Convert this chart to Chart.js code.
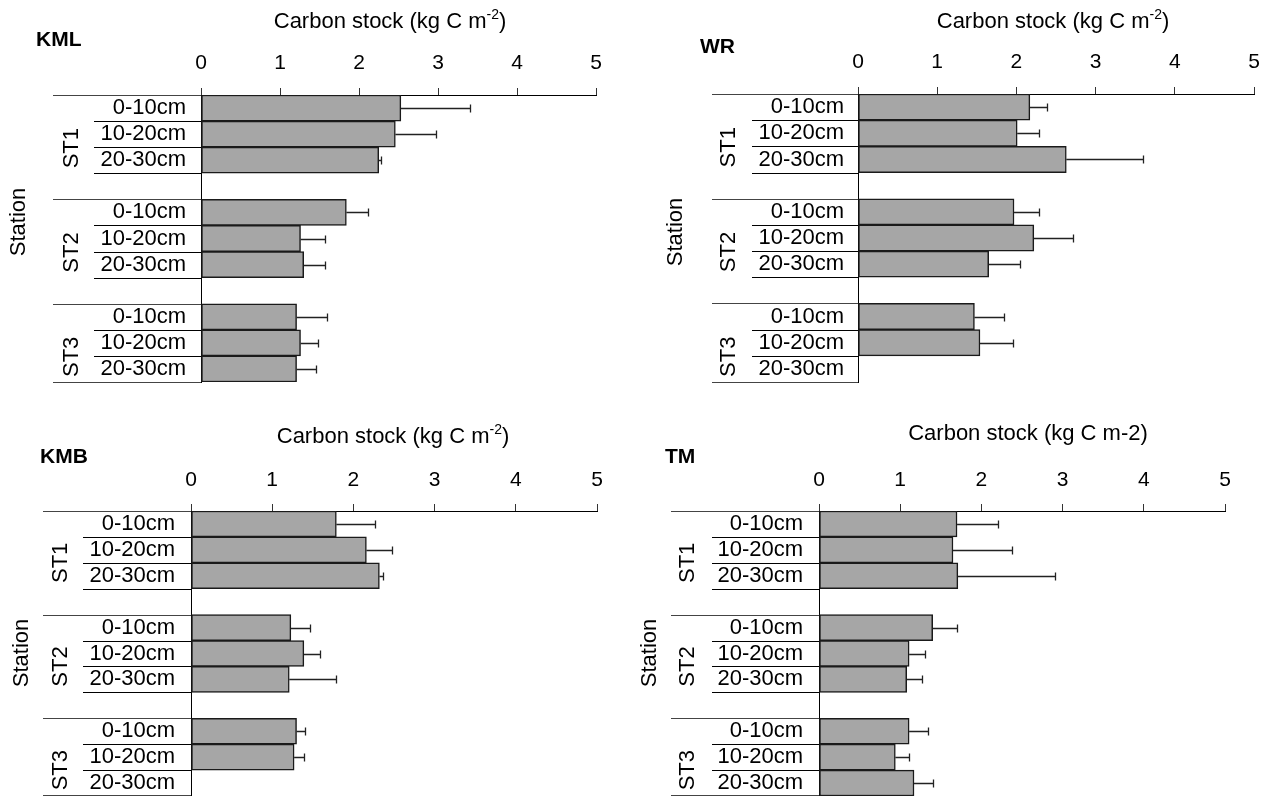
<!DOCTYPE html>
<html><head><meta charset="utf-8">
<script src="https://cdn.jsdelivr.net/npm/chart.js@4.4.1/dist/chart.umd.min.js"></script>
<style>
html,body{margin:0;padding:0;background:#fff;}
body{width:1274px;height:796px;position:relative;overflow:hidden;}
canvas{position:absolute;}
</style></head><body>
<canvas id="kml"></canvas>
<canvas id="wr"></canvas>
<canvas id="kmb"></canvas>
<canvas id="tm"></canvas>
<script>
// ---- data ----
const depthLabels = ['0-10cm','10-20cm','20-30cm','','0-10cm','10-20cm','20-30cm','','0-10cm','10-20cm','20-30cm'];
const stationLabels = ['ST1','ST2','ST3'];
const xTickValues = [0,1,2,3,4,5];
const axisTitle = 'Carbon stock (kg C m';
const axisTitleSup = '-2';
const axisTitlePlain = 'Carbon stock (kg C m-2)';
const stationTitle = 'Station';

const kmlValues = [2.53, 2.46, 2.25, null, 1.84, 1.26, 1.30, null, 1.21, 1.26, 1.21];
const kmlErrors = [0.88, 0.51, 0.03, null, 0.27, 0.31, 0.27, null, 0.39, 0.22, 0.24];
const wrValues  = [2.17, 2.01, 2.63, null, 1.97, 2.22, 1.65, null, 1.47, 1.54, null];
const wrErrors  = [0.22, 0.27, 0.97, null, 0.32, 0.49, 0.39, null, 0.37, 0.42, null];
const kmbValues = [1.79, 2.16, 2.32, null, 1.23, 1.39, 1.21, null, 1.30, 1.27, null];
const kmbErrors = [0.47, 0.32, 0.05, null, 0.24, 0.20, 0.58, null, 0.10, 0.12, null];
const tmValues  = [1.70, 1.65, 1.71, null, 1.40, 1.11, 1.08, null, 1.11, 0.94, 1.17];
const tmErrors  = [0.51, 0.73, 1.20, null, 0.30, 0.19, 0.19, null, 0.23, 0.17, 0.23];

const FONT = '"Liberation Sans", Arial, sans-serif';

function decor(cfg, errors){
  return {
    id: 'decor',
    afterDatasetsDraw(chart){
      const ctx = chart.ctx, xs = chart.scales.x, ys = chart.scales.y;
      const L = cfg.left, T = cfg.top;
      const ca = chart.chartArea;
      const n = depthLabels.length;
      const rowH = (ca.bottom - ca.top) / n;
      ctx.save();
      // error bars
      ctx.strokeStyle = '#222'; ctx.lineWidth = 1.3;
      chart.data.datasets[0].data.forEach((v, i) => {
        const e = errors[i];
        if (v == null || e == null) return;
        const y = Math.round(ys.getPixelForValue(i)) + 0.5;
        const xa = xs.getPixelForValue(v), xb = Math.round(xs.getPixelForValue(v + e)) + 0.5;
        ctx.beginPath(); ctx.moveTo(xa, y); ctx.lineTo(xb, y);
        ctx.moveTo(xb, y - 4); ctx.lineTo(xb, y + 4); ctx.stroke();
      });
      // category separator lines
      const longK = [0, 4, 8, 11];
      for (let k = 0; k <= n; k++) {
        const y = Math.min(Math.round(ca.top + k * rowH), chart.height - 1) + 0.5;
        const isLong = longK.includes(k);
        const x1 = isLong ? cfg.extLeft - L : cfg.rowLeft - L;
        ctx.strokeStyle = isLong ? '#444' : '#000';
        ctx.lineWidth = 1;
        ctx.beginPath(); ctx.moveTo(x1, y); ctx.lineTo(ca.left, y); ctx.stroke();
      }
      // station labels
      ctx.fillStyle = '#000';
      ctx.font = '22px ' + FONT;
      ctx.textAlign = 'center'; ctx.textBaseline = 'middle';
      stationLabels.forEach((s, g) => {
        const yc = ca.top + (g * 4 + 1.5) * rowH + cfg.stOff;
        ctx.save(); ctx.translate(cfg.stX - L, yc); ctx.rotate(-Math.PI / 2);
        ctx.fillText(s, 0, 0); ctx.restore();
      });
      ctx.save(); ctx.translate(cfg.stationX - L, cfg.stationY - T); ctx.rotate(-Math.PI / 2);
      ctx.fillText(stationTitle, 0, 0); ctx.restore();
      // panel name
      ctx.font = 'bold 21px ' + FONT;
      ctx.textAlign = 'left';
      ctx.fillText(cfg.name, cfg.nameX - L, cfg.nameY - T);
      // axis title
      ctx.textBaseline = 'alphabetic';
      const base = cfg.titleY - T + 8;
      if (cfg.sup) {
        ctx.font = '22px ' + FONT; const w1 = ctx.measureText(axisTitle).width;
        ctx.font = '14px ' + FONT; const w2 = ctx.measureText(axisTitleSup).width;
        ctx.font = '22px ' + FONT; const w3 = ctx.measureText(')').width;
        let x = cfg.titleX - L - (w1 + w2 + w3) / 2;
        ctx.fillText(axisTitle, x, base); x += w1;
        ctx.font = '14px ' + FONT; ctx.fillText(axisTitleSup, x, base - 9); x += w2;
        ctx.font = '22px ' + FONT; ctx.fillText(')', x, base);
      } else {
        ctx.font = '22px ' + FONT; ctx.textAlign = 'center';
        ctx.fillText(axisTitlePlain, cfg.titleX - L, base);
      }
      ctx.restore();
    }
  };
}

function makeChart(id, values, errors, cfg){
  const c = document.getElementById(id);
  c.width = cfg.w; c.height = cfg.h;
  c.style.left = cfg.left + 'px'; c.style.top = cfg.top + 'px';
  c.style.width = cfg.w + 'px'; c.style.height = cfg.h + 'px';
  return new Chart(c, {
    type: 'bar',
    data: { labels: depthLabels, datasets: [{
      data: values, backgroundColor: '#a6a6a6', borderColor: '#1a1a1a', borderWidth: 1.5,
      borderSkipped: false, barPercentage: 1, categoryPercentage: 1 }] },
    options: {
      indexAxis: 'y', responsive: false, animation: false, devicePixelRatio: 1,
      layout: { padding: { left: 0, top: 0, right: cfg.w - (cfg.x5 - cfg.left), bottom: cfg.h - (cfg.bottom - cfg.top) } },
      plugins: { legend: { display: false }, tooltip: { enabled: false } },
      scales: {
        x: {
          position: 'top', min: 0, max: 5,
          afterBuildTicks: s => { s.ticks = xTickValues.map(v => ({ value: v })); },
          ticks: { color: '#000', font: { family: FONT, size: 21 }, padding: cfg.tickPad, maxRotation: 0 },
          grid: { drawOnChartArea: false, drawTicks: true, tickLength: 7, color: '#333' },
          border: { display: true, color: '#000', width: 1 },
          afterFit: s => { s.height = cfg.axisY - cfg.top; s.paddingLeft = 0; s.paddingRight = 0; }
        },
        y: {
          ticks: { color: '#000', font: { family: FONT, size: 22 }, padding: cfg.x0 - cfg.labelRight, autoSkip: false },
          grid: { display: false, drawTicks: false },
          border: { display: true, color: '#000', width: 1 },
          afterFit: s => { s.width = cfg.x0 - cfg.left; s.paddingTop = 0; s.paddingBottom = 0; }
        }
      }
    },
    plugins: [decor(cfg, errors)]
  });
}

makeChart('kml', kmlValues, kmlErrors, {left:0, top:0, w:637, h:400, x0:201, x5:596, axisY:95, bottom:382,
  titleX:390, titleY:20, sup:true, name:'KML', nameX:36, nameY:40, tickPad:12, extLeft:53, rowLeft:94,
  labelRight:186, stX:72, stOff:14, stationX:18.5, stationY:222});
makeChart('wr', wrValues, wrErrors, {left:637, top:0, w:637, h:400, x0:858, x5:1254, axisY:94, bottom:382,
  titleX:1053, titleY:20, sup:true, name:'WR', nameX:700, nameY:47, tickPad:12, extLeft:712, rowLeft:752,
  labelRight:844, stX:729, stOff:14, stationX:676, stationY:232});
makeChart('kmb', kmbValues, kmbErrors, {left:0, top:400, w:637, h:396, x0:191, x5:597, axisY:511, bottom:796,
  titleX:393, titleY:435, sup:true, name:'KMB', nameX:40, nameY:457.5, tickPad:11, extLeft:43, rowLeft:83,
  labelRight:175, stX:61, stOff:13, stationX:22, stationY:653});
makeChart('tm', tmValues, tmErrors, {left:637, top:400, w:637, h:396, x0:819, x5:1225, axisY:511, bottom:796,
  titleX:1028, titleY:432, sup:false, name:'TM', nameX:665, nameY:457.5, tickPad:11, extLeft:671, rowLeft:712,
  labelRight:803, stX:688, stOff:13, stationX:650, stationY:653});
</script>
</body></html>
